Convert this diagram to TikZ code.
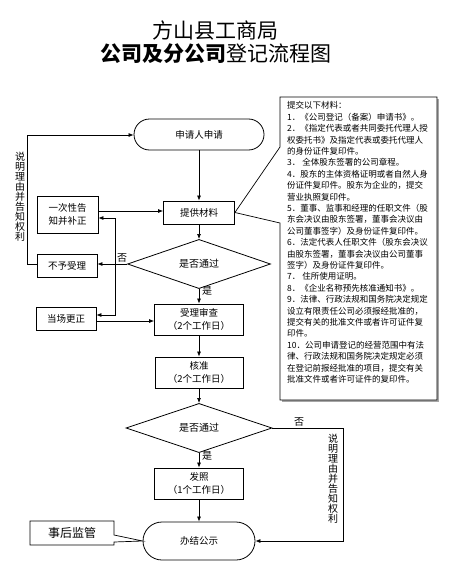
\documentclass[tikz,border=0pt]{standalone}
\usepackage{fontspec}
\setmainfont{Noto Sans CJK SC}
\usetikzlibrary{shapes.geometric,arrows.meta}
\newcommand\fsz[2]{\fontsize{#1}{#2}\selectfont}
\tikzset{
  flowbox/.style={draw, line width=0.8pt, inner sep=0pt, align=center, font=\fsz{9.5}{13}},
  roundbox/.style={flowbox, rounded corners=#1},
  decide/.style={draw, diamond, line width=0.8pt, inner sep=0pt, font=\fsz{10}{12}},
  arr/.style={-{Latex[length=5pt,width=4pt]}, line width=0.7pt},
  plain/.style={line width=0.7pt},
  lbl/.style={inner sep=0pt, font=\fsz{10}{12}},
  vtext/.style={inner sep=0pt, align=center, font=\fsz{10}{10}},
}
\begin{document}
\begin{tikzpicture}[x=1pt,y=-1pt]
\useasboundingbox (0,0) rectangle (453,586);
% titles
\node[inner sep=0pt, font=\fsz{21}{24}] (t1) at (215.5,30) {方山县工商局};
\node[inner sep=0pt, font=\fsz{21}{24}] (t2) at (215.5,54) {{\bfseries 公司及分公司}登记流程图};
% main column
\node[roundbox=15.5pt, minimum width=130pt, minimum height=31pt] (shen) at (199,134.5) {申请人申请};
\node[flowbox, minimum width=71pt, minimum height=23pt] (tigong) at (199,212.5) {提供材料};
\node[decide, minimum width=143pt, minimum height=34pt] (d1) at (199,264) {是否通过};
\node[flowbox, minimum width=89pt, minimum height=31pt] (shouli) at (199,319.5) {受理审查\\（2个工作日）};
\node[flowbox, minimum width=88pt, minimum height=31pt] (hezhun) at (199,372.5) {核准\\（2个工作日）};
\node[decide, minimum width=146pt, minimum height=32pt] (d2) at (199,428) {是否通过};
\node[flowbox, minimum width=89pt, minimum height=31pt] (fazhao) at (199,483.5) {发照\\（1个工作日）};
\node[roundbox=19pt, minimum width=112pt, minimum height=38pt] (banjie) at (199,541) {办结公示};
% left column
\node[flowbox, minimum width=61pt, minimum height=37pt] (yici) at (67.5,214.5) {一次性告\\知并补正};
\node[flowbox, minimum width=60pt, minimum height=23pt] (buyu) at (67,265.5) {不予受理};
\node[flowbox, minimum width=60pt, minimum height=23pt] (dangchang) at (66,318.5) {当场更正};
% main arrows
\draw[arr] (shen) -- (tigong);
\draw[arr] (tigong) -- (d1);
\draw[arr] (d1) -- (shouli);
\draw[arr] (shouli) -- (hezhun);
\draw[arr] (hezhun) -- (d2);
\draw[arr] (d2) -- (fazhao);
\draw[arr] (fazhao) -- (banjie);
\node[lbl] (yes1) at (207,291) {是};
\node[lbl] (yes2) at (207,456) {是};
% no branch 1
\draw[arr] (d1.west) -- (buyu.east |- d1.west);
\node[lbl] (no1) at (122,258) {否};
\coordinate (loopL) at (27,135);
\draw[arr] (buyu.west |- d1.west) -- (loopL |- d1.west) -- (loopL) -- (shen.west |- loopL);
\node[vtext] (why1) at (20,197) {说\\明\\理\\由\\并\\告\\知\\权\\利};
% correction arrows
\coordinate (vtop) at (115,218);
\coordinate (vbot) at (115,315);
\draw[{Latex[length=5pt,width=4pt]}-{Latex[length=5pt,width=4pt]}, line width=0.7pt]
  (yici.east |- vtop) -- (vtop) -- (vbot) -- (dangchang.east |- vbot);
\coordinate (ya) at (0,211);
\draw[arr] (yici.east |- ya) -- (tigong.west |- ya);
\coordinate (da) at (0,321);
\draw[arr] (dangchang.east |- da) -- (shouli.west |- da);
% no branch 2
\coordinate (loopR) at (343,428);
\draw[arr] (d2.east) -- (loopR) |- (banjie.east);
\node[lbl] (no2) at (299,422) {否};
\node[vtext] (why2) at (333,479) {说\\明\\理\\由\\并\\告\\知\\权\\利};
% materials callout
\fill[gray!70] (282,99) -- (439,99) -- (439,402) -- (282,402) -- cycle;
\draw[plain, fill=white] (280,97) -- (437,97) -- (437,400) -- (280,400) -- (280,223)
  -- (tigong.east) -- (280,147) -- cycle;
\node[anchor=north west, inner sep=0pt, align=left, font=\fsz{8.5}{11.4}] (cailiao) at (287,101.5) {%
提交以下材料：\\
1．《公司登记（备案）申请书》。\\
2．《指定代表或者共同委托代理人授\\
权委托书》及指定代表或委托代理人\\
的身份证件复印件。\\
3． 全体股东签署的公司章程。\\
4．股东的主体资格证明或者自然人身\\
份证件复印件。股东为企业的，提交\\
营业执照复印件。\\
5．董事、监事和经理的任职文件（股\\
东会决议由股东签署，董事会决议由\\
公司董事签字）及身份证件复印件。\\
6．法定代表人任职文件（股东会决议\\
由股东签署，董事会决议由公司董事\\
签字）及身份证件复印件。\\
7． 住所使用证明。\\
8．《企业名称预先核准通知书》。\\
9．法律、行政法规和国务院决定规定\\
设立有限责任公司必须报经批准的，\\
提交有关的批准文件或者许可证件复\\
印件。\\
10．公司申请登记的经营范围中有法\\
律、行政法规和国务院决定规定必须\\
在登记前报经批准的项目，提交有关\\
批准文件或者许可证件的复印件。};
% after-supervision callout
\draw[plain, fill=white] (30,521) -- (114,521) -- (114,535) -- (banjie.west) -- (114,542)
  -- (114,545) -- (30,545) -- cycle;
\node[inner sep=0pt, font=\fsz{12}{14}] (shihou) at (72,533) {事后监管};
\end{tikzpicture}
\end{document}
